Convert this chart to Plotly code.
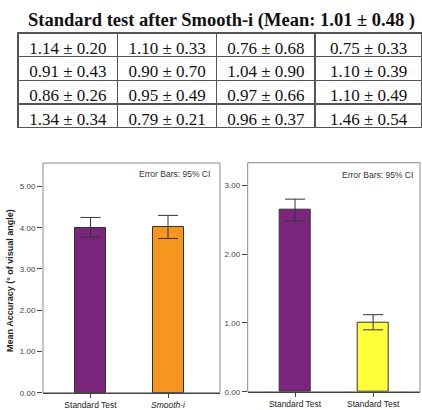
import plotly.graph_objects as go

# ---------------- data ----------------
table_title = "Standard test after Smooth-i (Mean: 1.01 ± 0.48 )"
table_col1 = ["1.14 ± 0.20", "0.91 ± 0.43", "0.86 ± 0.26", "1.34 ± 0.34"]
table_col2 = ["1.10 ± 0.33", "0.90 ± 0.70", "0.95 ± 0.49", "0.79 ± 0.21"]
table_col3 = ["0.76 ± 0.68", "1.04 ± 0.90", "0.97 ± 0.66", "0.96 ± 0.37"]
table_col4 = ["0.75 ± 0.33", "1.10 ± 0.39", "1.10 ± 0.49", "1.46 ± 0.54"]

left_categories = ["Standard Test<br>(Start)", "<i>Smooth-i</i>"]
left_means = [4.00, 4.01]
left_ci_upper = [4.25, 4.30]
left_ci_lower = [3.77, 3.74]

right_categories = ["Standard Test<br>(Start)", "Standard Test<br>(End)"]
right_means = [2.65, 1.01]
right_ci_upper = [2.80, 1.12]
right_ci_lower = [2.48, 0.90]

y_title = "Mean Accuracy (° of visual angle)"
err_note = "Error Bars: 95% CI"

# ---------------- figure ----------------
W, H = 422, 410
PURPLE = "#7B267C"
ORANGE = "#F7961E"
YELLOW = "#FFFF3A"

fig = go.Figure()

cols = [table_col1, table_col2, table_col3, table_col4]
fig.add_trace(go.Table(
    domain=dict(x=[18 / W, 1.0], y=[1 - 128 / H, 1 - 33 / H]),
    columnwidth=[99, 98, 98, 106],
    header=dict(values=[c[0] for c in cols],
                fill_color="white", line=dict(color="#555555", width=1.5),
                font=dict(family="Liberation Serif", size=17, color="#111111"),
                align="center", height=23.7),
    cells=dict(values=[c[1:] for c in cols],
               fill_color="white", line=dict(color="#555555", width=1.5),
               font=dict(family="Liberation Serif", size=17, color="#111111"),
               align="center", height=23.7),
))


def bars(cats, means, up, lo, colors, xa, ya):
    idx = list(range(len(cats)))
    return go.Bar(
        x=idx, y=means, width=0.4,
        marker=dict(color=colors, line=dict(color="#333333", width=1)),
        error_y=dict(type="data", symmetric=False,
                     array=[u - m for u, m in zip(up, means)],
                     arrayminus=[m - l for m, l in zip(means, lo)],
                     color="#333333", thickness=1, width=10),
        xaxis=xa, yaxis=ya, showlegend=False, hoverinfo="skip",
    )


fig.add_trace(bars(left_categories, left_means, left_ci_upper, left_ci_lower,
                   [PURPLE, ORANGE], "x", "y"))
fig.add_trace(bars(right_categories, right_means, right_ci_upper, right_ci_lower,
                   [PURPLE, YELLOW], "x2", "y2"))

xdom1 = [43 / W, 220 / W]
ydom1 = [1 - 392.7 / H, 1 - 163 / H]
xdom2 = [247.7 / W, 420 / W]
ydom2 = [1 - 391.7 / H, 1 - 162.7 / H]

axis_font = dict(family="Arial", size=8, color="#444444")

common_x = dict(showgrid=False, zeroline=False, showline=True, linecolor="#444444",
                linewidth=1, ticks="outside", ticklen=4, tickcolor="#444444",
                tickfont=dict(family="Arial", size=8.5, color="#222222"),
                automargin=False, fixedrange=True)
common_y = dict(showgrid=False, zeroline=False, showline=False,
                ticks="outside", ticklen=5, tickcolor="#444444", tickformat=".2f",
                dtick=1, tickfont=axis_font, automargin=False, fixedrange=True)

fig.update_layout(
    width=W, height=H, margin=dict(l=0, r=0, t=0, b=0),
    paper_bgcolor="white", plot_bgcolor="white",
    xaxis=dict(domain=xdom1, anchor="y", range=[-0.613, 1.671],
               tickvals=[0, 1], ticktext=left_categories, **common_x),
    yaxis=dict(domain=ydom1, anchor="x", range=[0, 5.57], **common_y),
    xaxis2=dict(domain=xdom2, anchor="y2", range=[-0.606, 1.60],
                tickvals=[0, 1], ticktext=right_categories, **common_x),
    yaxis2=dict(domain=ydom2, anchor="x2", range=[0, 3.33], **common_y),
    bargap=0,
)

# frames
for xd, yd in [(xdom1, ydom1), (xdom2, ydom2)]:
    fig.add_shape(type="rect", xref="paper", yref="paper",
                  x0=xd[0], x1=xd[1], y0=yd[0], y1=yd[1],
                  line=dict(color="#8a8a8a", width=1), layer="below")

# title
fig.add_annotation(text="<b>" + table_title + "</b>", xref="paper", yref="paper",
                   x=221 / W, y=1 - 20 / H, showarrow=False,
                   font=dict(family="Liberation Serif", size=18.5, color="#111111"),
                   xanchor="center", yanchor="middle")

# y-axis title
fig.add_annotation(text="<b>" + y_title + "</b>", xref="paper", yref="paper",
                   x=10 / W, y=1 - 281 / H, showarrow=False, textangle=-90,
                   font=dict(family="Arial", size=9, color="#222222"),
                   xanchor="center", yanchor="middle")

# error bar notes
for xr, yc in [(212, 174), (415, 175)]:
    fig.add_annotation(text=err_note, xref="paper", yref="paper",
                       x=xr / W, y=1 - yc / H, showarrow=False,
                       font=dict(family="Arial", size=8.5, color="#333333"),
                       xanchor="right", yanchor="middle")

fig.write_html("out.html")
